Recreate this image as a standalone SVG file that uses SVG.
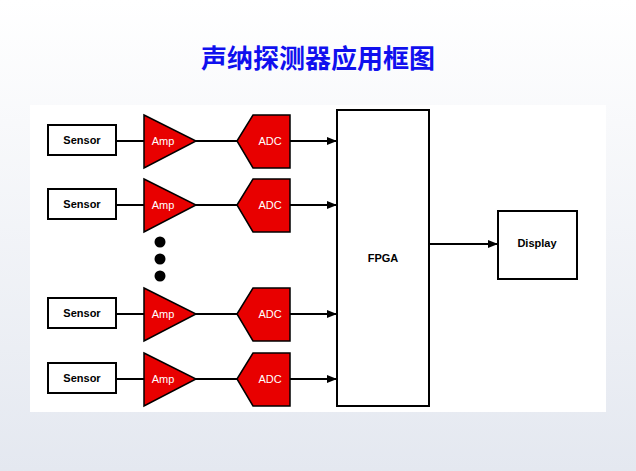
<svg xmlns="http://www.w3.org/2000/svg" width="636" height="471" viewBox="0 0 636 471">
<defs>
<linearGradient id="bg" x1="0" y1="0" x2="0" y2="1"><stop offset="0" stop-color="#ffffff"/><stop offset="1" stop-color="#e4e8f0"/></linearGradient>
<marker id="ah" markerWidth="10" markerHeight="8" refX="10" refY="4" orient="auto" markerUnits="userSpaceOnUse"><path d="M0,0 L10,4 L0,8 Z" fill="#000"/></marker>
</defs>
<style>
.box{fill:#fff;stroke:#000;stroke-width:2}
.red{fill:#e80000;stroke:#000;stroke-width:1.5}
.t{font-family:"Liberation Sans",Arial,sans-serif;font-size:11px;text-anchor:middle;dominant-baseline:central}
.w{fill:#fff}
.b{font-weight:bold;fill:#000}
.c{stroke:#000;stroke-width:2;fill:none;marker-end:url(#ah)}
</style>
<rect width="636" height="471" fill="url(#bg)"/>
<text x="318" y="56" text-anchor="middle" dominant-baseline="central" font-family="'Noto Sans CJK SC',sans-serif" font-weight="bold" font-size="26" fill="#1010ee">声纳探测器应用框图</text>
<rect x="30" y="105" width="576" height="307" fill="#fff"/>
<g id="connectors">
<path class="c" d="M117,141 H144 M196,141 H237 M290,141 H337"/>
<path class="c" d="M117,205 H144 M196,205 H237 M290,205 H337"/>
<path class="c" d="M117,314 H144 M196,314 H237 M290,314 H337"/>
<path class="c" d="M117,379 H144 M196,379 H237 M290,379 H337"/>
<path class="c" d="M429,244 H498"/>
</g>
<g id="row1">
<rect class="box" x="48" y="125" width="68" height="30"/><text class="t b" x="82" y="140">Sensor</text>
<path class="red" d="M144,115 L196,141 L144,168 Z"/><text class="t w" x="163" y="141">Amp</text>
<path class="red" d="M237,141 L253,115 H290 V168 H253 Z"/><text class="t w" x="270" y="141">ADC</text>
</g>
<g id="row2">
<rect class="box" x="48" y="189" width="68" height="30"/><text class="t b" x="82" y="204">Sensor</text>
<path class="red" d="M144,179 L196,205 L144,232 Z"/><text class="t w" x="163" y="205">Amp</text>
<path class="red" d="M237,205 L253,179 H290 V232 H253 Z"/><text class="t w" x="270" y="205">ADC</text>
</g>
<g id="dots"><circle cx="160" cy="242" r="5.5"/><circle cx="160" cy="259" r="5.5"/><circle cx="160" cy="276" r="5.5"/></g>
<g id="row3">
<rect class="box" x="48" y="298" width="68" height="30"/><text class="t b" x="82" y="313">Sensor</text>
<path class="red" d="M144,288 L196,314 L144,341 Z"/><text class="t w" x="163" y="314">Amp</text>
<path class="red" d="M237,314 L253,288 H290 V341 H253 Z"/><text class="t w" x="270" y="314">ADC</text>
</g>
<g id="row4">
<rect class="box" x="48" y="363" width="68" height="30"/><text class="t b" x="82" y="378">Sensor</text>
<path class="red" d="M144,353 L196,379 L144,406 Z"/><text class="t w" x="163" y="379">Amp</text>
<path class="red" d="M237,379 L253,353 H290 V406 H253 Z"/><text class="t w" x="270" y="379">ADC</text>
</g>
<g id="fpga"><rect class="box" x="337" y="110" width="92" height="296"/><text class="t b" x="383" y="258">FPGA</text></g>
<g id="display"><rect class="box" x="498" y="211" width="79" height="68"/><text class="t b" x="537" y="243">Display</text></g>
</svg>
